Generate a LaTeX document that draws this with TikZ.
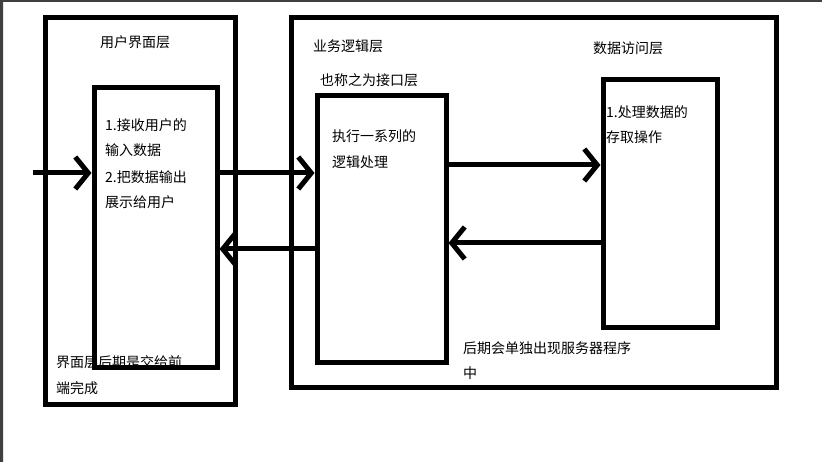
\documentclass[tikz,border=0pt]{standalone}
\usepackage{fontspec}
\newfontfamily\cjk{Noto Sans CJK SC}
\usetikzlibrary{arrows.meta}
\tikzset{
	layer/.style={draw=black,line width=5pt,inner sep=0pt},
	txt/.style={anchor=west,inner sep=0pt,font=\cjk\fontsize{14pt}{16pt}\selectfont},
	flow/.style={line width=5pt,-{Straight Barb[length=13pt,width=32pt,line width=5pt]}}
}
\begin{document}
\begin{tikzpicture}[x=1pt,y=-1pt]
	\useasboundingbox (0,0) rectangle (822,462);
	\fill[white] (0,0) rectangle (822,462);
	\fill[black!75] (0,0) rectangle (822,2) (0,0) rectangle (3,462);
	% Layers
	\node[layer,minimum width=190pt,minimum height=386pt] (ui) at (140,211) {};
	\node[layer,minimum width=123pt,minimum height=279pt] (uiin) at (155.5,227.5) {};
	\node[layer,minimum width=485pt,minimum height=369pt] (biz) at (533.5,202.5) {};
	\node[layer,minimum width=129pt,minimum height=266pt] (bizin) at (381.5,229) {};
	\node[layer,minimum width=114pt,minimum height=248pt] (data) at (660,204) {};
	% Labels
	\node[txt] (tui) at (100,42) {用户界面层};
	\node[txt] (t1) at (105,125) {1.接收用户的};
	\node[txt] (t2) at (105,150) {输入数据};
	\node[txt] (t3) at (105,177) {2.把数据输出};
	\node[txt] (t4) at (105,202) {展示给用户};
	\node[txt] (tn1) at (56,362) {界面层后期是交给前};
	\node[txt] (tn2) at (56,388) {端完成};
	\node[txt] (tbiz) at (313,46) {业务逻辑层};
	\node[txt] (tif) at (320,80) {也称之为接口层};
	\node[txt] (tb1) at (332,136) {执行一系列的};
	\node[txt] (tb2) at (332,162) {逻辑处理};
	\node[txt] (tda) at (593,48) {数据访问层};
	\node[txt] (td1) at (606,112) {1.处理数据的};
	\node[txt] (td2) at (606,137) {存取操作};
	\node[txt] (tsv) at (463,348) {后期会单独出现服务器程序};
	\node[txt] (tsv2) at (463,373) {中};
	% Flows
	\coordinate (user) at (33,173);
	\draw[flow] (user) -- (uiin.west |- user);
	\draw[flow] (uiin.east |- user) -- (bizin.west |- user);
	\draw[flow] (bizin.east |- 0,165) -- (data.west |- 0,165);
	\draw[flow] (data.west |- 0,243) -- (bizin.east |- 0,243);
	\draw[flow] (bizin.west |- 0,249) -- (uiin.east |- 0,249);
\end{tikzpicture}
\end{document}
